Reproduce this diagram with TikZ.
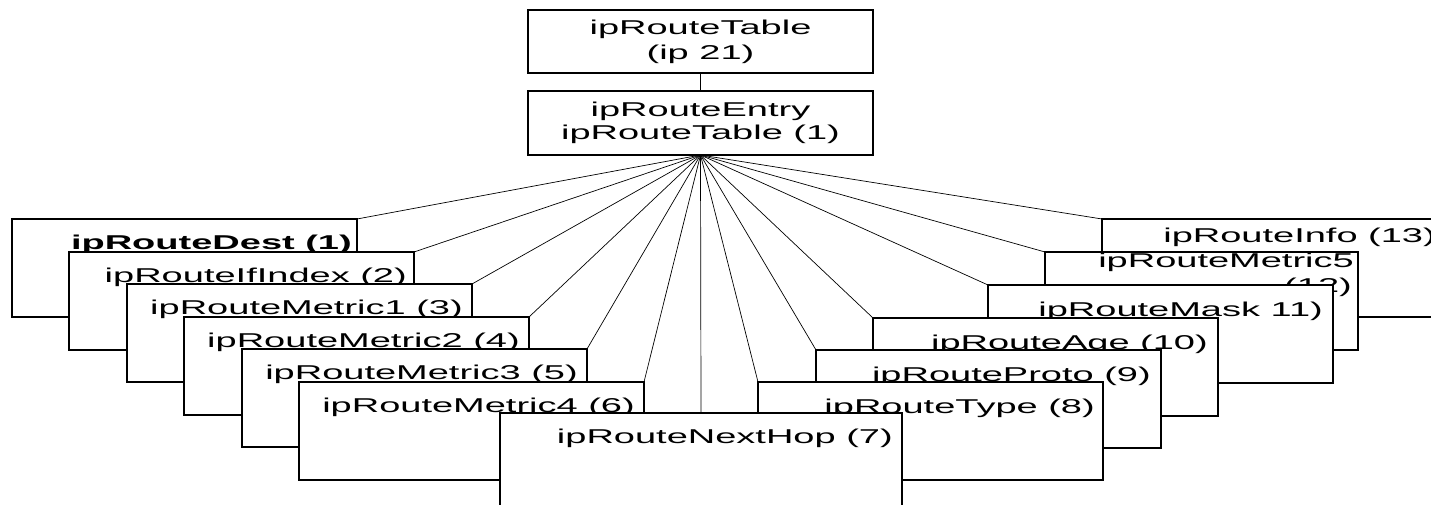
\documentclass[tikz,border=0pt]{standalone}
\usepackage{fontspec}
\setmainfont{Liberation Sans}[FakeStretch=1.9]
\begin{document}
\begin{tikzpicture}[x=1pt,y=-1pt,
  box/.style={draw, fill=white, line width=1.2pt, inner sep=0pt, outer sep=0pt,
              minimum width=345pt, minimum height=98pt, anchor=north west},
  headbox/.style={draw, fill=white, line width=1.2pt, inner sep=0pt, outer sep=0pt,
              minimum width=345pt, anchor=north west, align=center,
              font=\fontsize{20}{25}\selectfont},
  lbl/.style={anchor=base east, inner sep=0pt, font=\fontsize{20}{25}\selectfont},
  link/.style={line width=0.7pt}]
\useasboundingbox (0,0) rectangle (1431,505);
\clip (0,0) rectangle (1431,505);

% table and entry
\node[headbox, minimum height=63pt] (table) at (528,10) {ipRouteTable\\(ip 21)};
\node[headbox, minimum height=64pt, font=\fontsize{20}{23}\selectfont] (entry) at (528,91) {ipRouteEntry\\ipRouteTable (1)};

% top-left corners of the column boxes
\path
  (12,219)   coordinate (pdest)
  (69,252)   coordinate (pifidx)
  (127,284)  coordinate (pmet1)
  (184,317)  coordinate (pmet2)
  (242,349)  coordinate (pmet3)
  (299,382)  coordinate (pmet4)
  (1102,219) coordinate (pinfo)
  (1045,252) coordinate (pmet5)
  (988,285)  coordinate (pmask)
  (873,318)  coordinate (page)
  (816,350)  coordinate (pproto)
  (758,382)  coordinate (ptype)
  (500,413)  coordinate (phop);

% invisible outlines used as connector targets
\path
  node[box, draw=none, fill=none] (dest)  at (pdest)  {}
  node[box, draw=none, fill=none] (ifidx) at (pifidx) {}
  node[box, draw=none, fill=none] (met1)  at (pmet1)  {}
  node[box, draw=none, fill=none] (met2)  at (pmet2)  {}
  node[box, draw=none, fill=none] (met3)  at (pmet3)  {}
  node[box, draw=none, fill=none] (met4)  at (pmet4)  {}
  node[box, draw=none, fill=none] (info)  at (pinfo)  {}
  node[box, draw=none, fill=none, minimum width=313pt] (met5) at (pmet5) {}
  node[box, draw=none, fill=none] (mask)  at (pmask)  {}
  node[box, draw=none, fill=none] (age)   at (page)   {}
  node[box, draw=none, fill=none] (proto) at (pproto) {}
  node[box, draw=none, fill=none] (type)  at (ptype)  {}
  node[box, draw=none, fill=none, minimum width=402pt] (hop) at (phop) {};

% connectors
\draw[link] (table.south) -- (entry.north);
\foreach \n in {dest,ifidx,met1,met2,met3,met4}
  \draw[link] (entry.south) -- (\n.north east);
\foreach \n in {info,met5,mask,age,proto,type}
  \draw[link] (entry.south) -- (\n.north west);
\draw[link] (entry.south) -- (hop.north);

% left column, back to front
\node[box] (destb) at (pdest) {};
\node[lbl, font=\fontsize{20}{25}\selectfont\bfseries] (tdest) at ([shift={(-5,30)}]destb.north east) {ipRouteDest (1)};
\node[box] (ifidxb) at (pifidx) {};
\node[lbl] (tifidx) at ([shift={(-7,30)}]ifidxb.north east) {ipRouteIfIndex (2)};
\node[box] (met1b) at (pmet1) {};
\node[lbl] (tmet1) at ([shift={(-9,30)}]met1b.north east) {ipRouteMetric1 (3)};
\node[box] (met2b) at (pmet2) {};
\node[lbl] (tmet2) at ([shift={(-9,30)}]met2b.north east) {ipRouteMetric2 (4)};
\node[box] (met3b) at (pmet3) {};
\node[lbl] (tmet3) at ([shift={(-9,30)}]met3b.north east) {ipRouteMetric3 (5)};
\node[box] (met4b) at (pmet4) {};
\node[lbl] (tmet4) at ([shift={(-9,30)}]met4b.north east) {ipRouteMetric4 (6)};

% right column, back to front
\node[box] (infob) at (pinfo) {};
\node[lbl] (tinfo) at ([shift={(-11,23)}]infob.north east) {ipRouteInfo (13)};
\node[box, minimum width=313pt] (met5b) at (pmet5) {};
\node[lbl] (tmet5a) at ([shift={(-4,15.5)}]met5b.north east) {ipRouteMetric5};
\node[lbl] (tmet5b) at ([shift={(-6,40.5)}]met5b.north east) {(12)};
\node[box] (maskb) at (pmask) {};
\node[lbl] (tmask) at ([shift={(-10,31)}]maskb.north east) {ipRouteMask 11)};
\node[box] (ageb) at (page) {};
\node[lbl] (tage) at ([shift={(-10,31)}]ageb.north east) {ipRouteAge (10)};
\node[box] (protob) at (pproto) {};
\node[lbl] (tproto) at ([shift={(-10,31)}]protob.north east) {ipRouteProto (9)};
\node[box] (typeb) at (ptype) {};
\node[lbl] (ttype) at ([shift={(-8,31)}]typeb.north east) {ipRouteType (8)};

% front box
\node[box, minimum width=402pt] (hopb) at (phop) {};
\node[lbl] (thop) at ([shift={(-9,30)}]hopb.north east) {ipRouteNextHop (7)};
\end{tikzpicture}
\end{document}
